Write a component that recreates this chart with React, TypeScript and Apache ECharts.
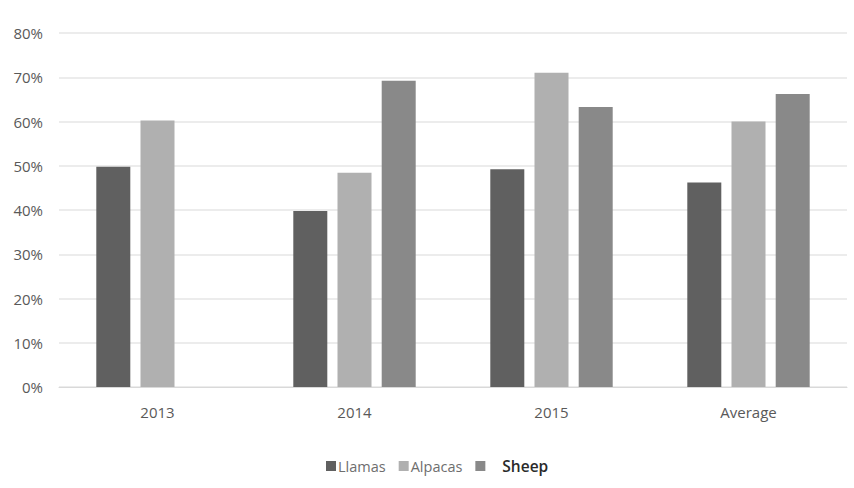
import React, { useEffect, useRef } from "react";
import * as echarts from "echarts";

const categories = ["2013", "2014", "2015", "Average"];
const llamas = [49.8, 39.8, 49.2, 46.2];
const alpacas = [60.2, 48.4, 71.0, 60.0];
const sheep: (number | null)[] = [null, 69.2, 63.3, 66.2];

const FONT = "'Open Sans', Lato, sans-serif";

export default function App() {
  const ref = useRef<HTMLDivElement>(null);
  useEffect(() => {
    if (!ref.current) return;
    const chart = echarts.init(ref.current, undefined, { renderer: "svg" });
    chart.setOption({
      animation: false,
      backgroundColor: "#ffffff",
      textStyle: { fontFamily: FONT },
      grid: { left: 59, right: 7, top: 33, bottom: 101 },
      legend: {
        data: ["Llamas", "Alpacas", "Sheep"],
        left: 321,
        top: 453,
        icon: "rect",
        itemWidth: 10,
        itemHeight: 10,
        itemGap: 13,
        formatter: (name: string) =>
          name === "Sheep" ? "{s|" + name + "}" : "{n|" + name + "}",
        textStyle: {
          rich: {
            n: { fontFamily: FONT, fontSize: 14.5, color: "#6e6e6e", padding: [0, 0, 0, -3] },
            s: { fontFamily: FONT, fontSize: 15.5, fontWeight: 600, color: "#2a2a2a", padding: [0, 0, 0, 12] },
          },
        },
      },
      xAxis: {
        type: "category",
        data: categories,
        axisLine: { lineStyle: { color: "#d9d9d9", width: 1 } },
        axisTick: { show: false },
        axisLabel: { color: "#595959", fontSize: 15, fontFamily: FONT, margin: 17 },
      },
      yAxis: {
        type: "value",
        min: 0,
        max: 80,
        interval: 10,
        axisLine: { show: false },
        axisTick: { show: false },
        axisLabel: { formatter: "{value}%", color: "#595959", fontSize: 15, fontFamily: FONT, margin: 16 },
        splitLine: { lineStyle: { color: "#e6e6e6", width: 1.5 } },
      },
      series: [
        { name: "Llamas", type: "bar", data: llamas, barWidth: 34, barGap: "30%", itemStyle: { color: "#606060" } },
        { name: "Alpacas", type: "bar", data: alpacas, barWidth: 34, barGap: "30%", itemStyle: { color: "#b0b0b0" } },
        { name: "Sheep", type: "bar", data: sheep, barWidth: 34, barGap: "30%", itemStyle: { color: "#898989" } },
      ],
    });
    return () => chart.dispose();
  }, []);
  return <div ref={ref} style={{ width: 854, height: 488, position: "absolute", left: 0, top: 0 }} />;
}
